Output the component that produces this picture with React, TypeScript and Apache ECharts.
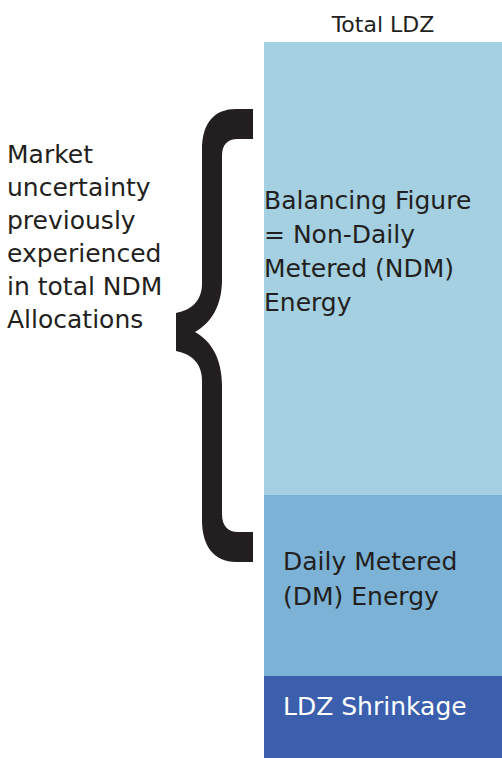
import React, { useEffect, useRef } from "react";
import * as echarts from "echarts";

const categories = ["Total LDZ"];
const shrinkage = [82];
const dailyMetered = [181];
const nonDailyMetered = [453];
const segmentLabels = {
  ndm: "Balancing Figure\n= Non-Daily\nMetered (NDM)\nEnergy",
  dm: "Daily Metered\n(DM) Energy",
  shrink: "LDZ Shrinkage",
};
const annotation = "Market\nuncertainty\npreviously\nexperienced\nin total NDM\nAllocations";

const BRACE =
  "M 253 109 L 236 109 C 215 109 202 122 202 150 L 202 284 C 202 300 192 310 176 313 L 176 351 C 192 354 202 364 202 380 L 202 520 C 202 546 214 562 236 562 L 253 562 L 253 532 L 238 532 C 228 532 222 526 222 514 L 222 386 C 222 358 211 341 195 332 C 211 323 222 306 222 280 L 222 156 C 222 145 227 139 238 139 L 253 139 Z";

const FONT = "DejaVu Sans";
const W = "normal";
const INK = "#231F20";

export default function App() {
  const ref = useRef<HTMLDivElement>(null);
  useEffect(() => {
    if (!ref.current) return;
    try {
      echarts.graphic.registerShape("brace", echarts.graphic.extendPath(BRACE, {}));
    } catch (e) {}
    const chart = echarts.init(ref.current, null, { renderer: "svg" });
    chart.setOption({
      animation: false,
      grid: { left: 264, right: 0, top: 42, bottom: 0 },
      xAxis: {
        type: "category",
        data: categories,
        position: "top",
        axisLine: { show: false },
        axisTick: { show: false },
        axisLabel: { color: INK, fontSize: 22, fontFamily: FONT, fontWeight: W, margin: 7 },
      },
      yAxis: {
        type: "value",
        min: 0,
        max: shrinkage[0] + dailyMetered[0] + nonDailyMetered[0],
        show: false,
        splitLine: { show: false },
      },
      series: [
        {
          type: "bar",
          stack: "t",
          data: shrinkage,
          barWidth: "100%",
          itemStyle: { color: "#3B5FAD" },
          label: {
            show: true,
            formatter: segmentLabels.shrink,
            position: "insideLeft",
            distance: 19,
            offset: [0, -11],
            color: "#FFFFFF",
            fontSize: 25,
            fontWeight: W,
            fontFamily: FONT,
          },
        },
        {
          type: "bar",
          stack: "t",
          data: dailyMetered,
          barWidth: "100%",
          itemStyle: { color: "#7BB2D6" },
          label: {
            show: true,
            formatter: segmentLabels.dm,
            position: "insideLeft",
            distance: 19,
            offset: [0, -7],
            color: INK,
            fontSize: 25,
            fontWeight: W,
            lineHeight: 35,
            fontFamily: FONT,
          },
        },
        {
          type: "bar",
          stack: "t",
          data: nonDailyMetered,
          barWidth: "100%",
          itemStyle: { color: "#A4D0E1" },
          label: {
            show: true,
            formatter: segmentLabels.ndm,
            position: "insideLeft",
            distance: 0,
            offset: [0, -17],
            color: INK,
            fontSize: 25,
            fontWeight: W,
            lineHeight: 34,
            fontFamily: FONT,
          },
        },
      ],
      graphic: [
        {
          type: "brace",
          x: 0,
          y: 0,
          style: { fill: INK },
        },
        {
          type: "text",
          left: 7,
          top: 138,
          style: {
            text: annotation,
            fill: INK,
            fontSize: 25,
            fontWeight: W,
            lineHeight: 33,
            fontFamily: FONT,
          },
        },
      ],
    });
    return () => chart.dispose();
  }, []);
  return (
    <div
      ref={ref}
      style={{ position: "fixed", left: 0, top: 0, width: 502, height: 758, background: "#fff" }}
    />
  );
}
